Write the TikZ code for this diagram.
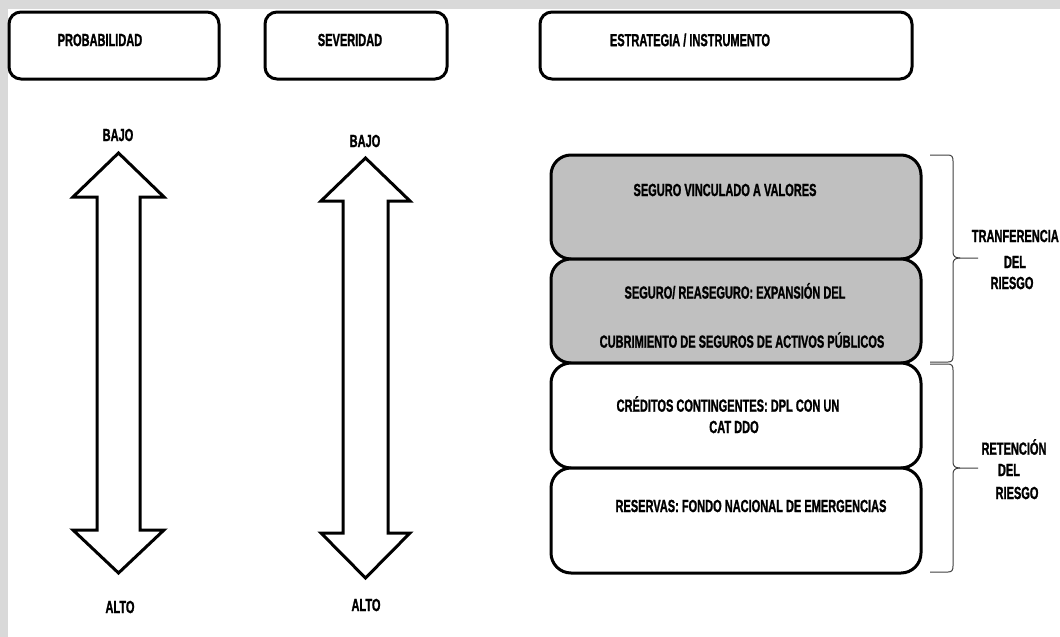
\documentclass[tikz,border=0pt]{standalone}
\usepackage{fontspec}
\setmainfont{Liberation Sans}[FakeStretch=0.63, BoldFeatures={FakeBold=1.2}]
\begin{document}
\begin{tikzpicture}[x=1pt,y=-1pt,
  hdrbox/.style={draw, line width=3pt, rounded corners=12pt, inner sep=0pt},
  stratbox/.style={draw, line width=3pt, rounded corners=20pt, inner sep=0pt,
    minimum width=370pt},
  shaded/.style={fill=boxgray},
  lbl/.style={inner sep=0pt, font=\fontsize{17.5}{19}\selectfont\bfseries, text=black},
  bigarrow/.style={draw, line width=3pt, line join=miter, fill=white},
  bracepath/.style={draw=black!75, line width=1pt},
]
\definecolor{boxgray}{HTML}{C0C0C0}
\definecolor{framegray}{HTML}{D9D9D9}

% page frame
\fill[framegray] (0,0) rectangle (1060,637);
\fill[white] (8,9) rectangle (1060,637);
\useasboundingbox (0,0) rectangle (1060,637);

% column headers
\node[hdrbox, minimum width=210pt, minimum height=67pt] (hprob) at (114,45.5) {};
\node[hdrbox, minimum width=182pt, minimum height=67pt] (hsev) at (356,45.5) {};
\node[hdrbox, minimum width=372pt, minimum height=67pt] (hstrat) at (726,45.5) {};
\node[lbl] (tprob) at (100,40) {PROBABILIDAD};
\node[lbl] (tsev) at (350,40) {SEVERIDAD};
\node[lbl] (tstrat) at (690,40) {ESTRATEGIA / INSTRUMENTO};

% probability double arrow
\draw[bigarrow] (118.5,153) -- (164,197) -- (140,197) -- (140,530) -- (164,530)
  -- (118.5,573) -- (73,530) -- (97,530) -- (97,197) -- (73,197) -- cycle;
\node[lbl] (pbajo) at (118,135) {BAJO};
\node[lbl] (palto) at (120,607) {ALTO};

% severity double arrow
\draw[bigarrow] (365.5,158) -- (410,201) -- (388,201) -- (388,533) -- (410,533)
  -- (365.5,578) -- (321,533) -- (343,533) -- (343,201) -- (321,201) -- cycle;
\node[lbl] (sbajo) at (365,141) {BAJO};
\node[lbl] (salto) at (366,605) {ALTO};

% strategy / instrument stack
\node[stratbox, shaded, minimum height=104pt] (s1) at (736,207) {};
\node[stratbox, shaded, minimum height=104pt] (s2) at (736,311) {};
\node[stratbox, fill=white, minimum height=105pt] (s3) at (736,415.5) {};
\node[stratbox, fill=white, minimum height=105pt] (s4) at (736,520.5) {};

\node[lbl] (t1) at (725,190) {SEGURO VINCULADO A VALORES};
\node[lbl] (t2a) at (735,291) {SEGURO/ REASEGURO: EXPANSIÓN DEL};
\node[lbl] (t2b) at (742,340) {CUBRIMIENTO DE SEGUROS DE ACTIVOS PÚBLICOS};
\node[lbl] (t3a) at (728,404) {CRÉDITOS CONTINGENTES: DPL CON UN};
\node[lbl] (t3b) at (734,427) {CAT DDO};
\node[lbl] (t4) at (751,506) {RESERVAS: FONDO NACIONAL DE EMERGENCIAS};

% braces
\draw[bracepath] (930,155) -- (948,155) .. controls (952,155) and (953,157) .. (953,161)
  -- (953,252) .. controls (953,256) and (955,258) .. (960,258) -- (978,258);
\draw[bracepath] (930,362) -- (948,362) .. controls (952,362) and (953,360) .. (953,356)
  -- (953,264) .. controls (953,260) and (955,258) .. (960,258);
\draw[bracepath] (930,364) -- (948,364) .. controls (952,364) and (953,366) .. (953,370)
  -- (953,462) .. controls (953,466) and (955,468) .. (960,468) -- (978,468);
\draw[bracepath] (930,572) -- (948,572) .. controls (952,572) and (953,570) .. (953,566)
  -- (953,474) .. controls (953,470) and (955,468) .. (960,468);

\node[lbl, anchor=east] (tr1) at (1059,236) {TRANFERENCIA};
\node[lbl] (tr2) at (1015,262) {DEL};
\node[lbl] (tr3) at (1012,283) {RIESGO};
\node[lbl] (rt1) at (1014,447) {RETENCIÓN};
\node[lbl] (rt2) at (1009,470) {DEL};
\node[lbl] (rt3) at (1017,493) {RIESGO};
\end{tikzpicture}
\end{document}
